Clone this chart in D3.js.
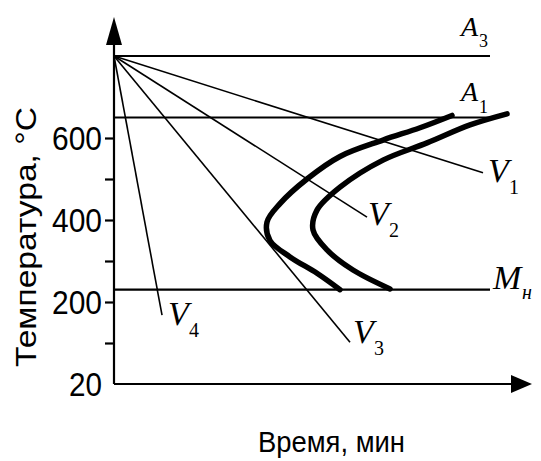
<!DOCTYPE html>
<html>
<head>
<meta charset="utf-8">
<script src="https://cdn.jsdelivr.net/npm/d3@7"></script>
<style>
  html, body { margin: 0; padding: 0; background: #fff; }
  svg { display: block; }
</style>
</head>
<body>
<script>
// ---------- data ----------
const tempTicks = [0, 100, 200, 300, 400, 500, 600];
const tempTickLabels = ["20", "", "200", "", "400", "", "600"];

// critical levels (°C)
const levelLetters = ["A", "A", "M"];
const levelSubs = ["3", "1", "н"];
const levelTemps = [800, 650, 230];
const levelEndTime = 94;

// cooling rates: start at A3 at time 0, straight to end point
const coolStartTime = 0;
const coolStartTemp = 800;
const coolNames = ["1", "2", "3", "4"];
const coolEndTime = [92.25, 63.25, 59, 12];
const coolEndTemp = [515, 407, 102, 168];

// C-curves (start and end of transformation)
const startCurveTime = [84.5, 76.5, 67.25, 56.5, 48.25, 41.5, 38.25, 39, 44, 50.75, 56.5];
const startCurveTemp = [655, 625, 595, 555, 500, 440, 395, 350, 310, 270, 230];
const endCurveTime = [98.25, 89, 78.25, 67.25, 56.5, 50.75, 49.75, 53.25, 59.75, 69];
const endCurveTemp = [659, 632, 588, 546, 480, 424, 376, 327, 278, 232];

const xTitle = "Время, мин";
const yTitle = "Температура, °С";

// ---------- layout ----------
const W = 541, H = 461;
const svg = d3.select("body").append("svg").attr("width", W).attr("height", H);

const x = d3.scaleLinear().domain([0, 100]).range([114, 514]);
const y = d3.scaleLinear().domain([0, 600]).range([384, 138]);

const serif = "'Liberation Serif', 'Times New Roman', serif";
const sans = "'Liberation Sans', Arial, sans-serif";

// axes lines with arrows
const xArrowTip = 532, yArrowTip = 17;
svg.append("line").attr("x1", x(0)).attr("y1", y(0)).attr("x2", xArrowTip - 18).attr("y2", y(0))
  .attr("stroke", "#000").attr("stroke-width", 2.2);
svg.append("line").attr("x1", x(0)).attr("y1", y(0)).attr("x2", x(0)).attr("y2", yArrowTip + 24)
  .attr("stroke", "#000").attr("stroke-width", 2.2);
svg.append("path")
  .attr("d", `M${xArrowTip},${y(0)} L${xArrowTip - 21},${y(0) - 9} L${xArrowTip - 21},${y(0) + 9} Z`)
  .attr("fill", "#000");
svg.append("path")
  .attr("d", `M${x(0)},${yArrowTip} L${x(0) - 8},${yArrowTip + 28} L${x(0) + 8},${yArrowTip + 28} Z`)
  .attr("fill", "#000");

// y axis ticks
const yAxis = d3.axisLeft(y).tickValues(tempTicks).tickSize(9).tickPadding(3)
  .tickFormat((d, i) => tempTickLabels[i]);
const gy = svg.append("g").attr("transform", `translate(${x(0)},0)`).call(yAxis);
gy.select(".domain").remove();
gy.selectAll(".tick line").attr("stroke", "#000").attr("stroke-width", 2.2)
  .attr("display", d => d === 0 ? "none" : null);
gy.selectAll(".tick text")
  .attr("fill", "#000")
  .style("font-family", sans)
  .style("font-size", "34px")
  .attr("dy", "0.35em")
  .each(function () {
    const t = d3.select(this);
    const s = t.text();
    if (s.length) t.attr("textLength", s.length === 3 ? 50 : 33).attr("lengthAdjust", "spacingAndGlyphs");
  });
gy.attr("font-family", null).attr("font-size", null);

// horizontal critical levels
levelTemps.forEach((T, i) => {
  svg.append("line")
    .attr("x1", x(0)).attr("x2", x(levelEndTime))
    .attr("y1", y(T)).attr("y2", y(T))
    .attr("stroke", "#000").attr("stroke-width", 2.2);
});
const levelLabelOff = [[-29, -20, 18, 11], [-29, -17, 18, 12], [3, -1, 29, 10]];
levelTemps.forEach((T, i) => {
  const ex = x(levelEndTime), ey = y(T);
  const o = levelLabelOff[i];
  const isM = levelLetters[i] === "M";
  svg.append("text").attr("x", ex + o[0]).attr("y", ey + o[1])
    .style("font-family", serif).style("font-style", "italic")
    .style("font-size", isM ? "34px" : "28px").text(levelLetters[i]);
  svg.append("text").attr("x", ex + o[0] + o[2]).attr("y", ey + o[1] + o[3])
    .style("font-family", serif).style("font-style", isM ? "italic" : "normal")
    .style("font-size", isM ? "20px" : "18px").text(levelSubs[i]);
});

// cooling lines
coolNames.forEach((n, i) => {
  svg.append("line")
    .attr("x1", x(coolStartTime)).attr("y1", y(coolStartTemp))
    .attr("x2", x(coolEndTime[i])).attr("y2", y(coolEndTemp[i]))
    .attr("stroke", "#000").attr("stroke-width", 1.6);
});
const coolLabelOff = [[5, 9], [1, 8], [3, 1], [6, 10]];
coolNames.forEach((n, i) => {
  const ex = x(coolEndTime[i]), ey = y(coolEndTemp[i]);
  const o = coolLabelOff[i];
  svg.append("text").attr("x", ex + o[0]).attr("y", ey + o[1])
    .style("font-family", serif).style("font-style", "italic")
    .style("font-size", "34px").text("V");
  svg.append("text").attr("x", ex + o[0] + 21).attr("y", ey + o[1] + 12)
    .style("font-family", serif)
    .style("font-size", "20px").text(n);
});

// C-curves
const line = d3.line().x(d => x(d[0])).y(d => y(d[1])).curve(d3.curveCatmullRom.alpha(0.5));
svg.append("path").datum(d3.zip(startCurveTime, startCurveTemp))
  .attr("d", line).attr("fill", "none").attr("stroke", "#000")
  .attr("stroke-width", 5.5).attr("stroke-linecap", "round");
svg.append("path").datum(d3.zip(endCurveTime, endCurveTemp))
  .attr("d", line).attr("fill", "none").attr("stroke", "#000")
  .attr("stroke-width", 5.5).attr("stroke-linecap", "round");

// titles
svg.append("text").attr("x", 258).attr("y", 452)
  .style("font-family", sans).style("font-size", "29px")
  .attr("textLength", 147).attr("lengthAdjust", "spacingAndGlyphs")
  .text(xTitle);
svg.append("text").attr("transform", "translate(36,237) rotate(-90)")
  .attr("text-anchor", "middle")
  .style("font-family", sans).style("font-size", "30px")
  .attr("textLength", 260).attr("lengthAdjust", "spacingAndGlyphs")
  .text(yTitle);
</script>
</body>
</html>
